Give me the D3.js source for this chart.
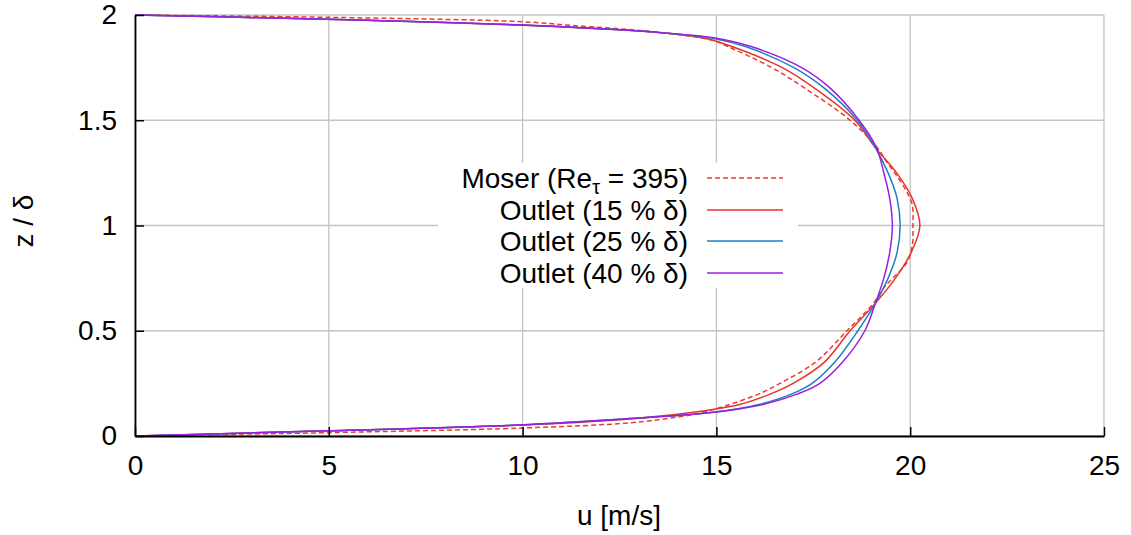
<!DOCTYPE html>
<html>
<head>
<meta charset="utf-8">
<script src="https://cdn.jsdelivr.net/npm/d3@7"></script>
<style>
  html, body { margin: 0; padding: 0; background: #fff; }
  svg text { font-family: "Liberation Sans", Arial, Helvetica, sans-serif; fill: #000; }
</style>
</head>
<body>
<svg id="chart" width="1131" height="535"></svg>
<script>
// tick values
const xTicks = [0, 5, 10, 15, 20, 25];
const yTicks = [0, 0.5, 1, 1.5, 2];

// Moser DNS (Re_tau = 395): wall distance z/delta and velocity u
const moserZ = [0, 0.008, 0.016, 0.038, 0.063, 0.09, 0.11, 0.13, 0.15, 0.2, 0.25, 0.35, 0.5, 0.63, 0.7, 0.75, 0.82, 0.9, 1.0, 1.1, 1.18, 1.25, 1.3, 1.37, 1.5, 1.65, 1.75, 1.85, 1.88, 1.92, 1.95, 1.968, 1.989, 2.0];
const moserU = [0, 2.5, 5, 10, 12.8, 14.0, 14.6, 15.0, 15.35, 16.1, 16.64, 17.55, 18.37, 19.05, 19.3, 19.55, 19.9, 20.05, 20.07, 20.05, 19.85, 19.6, 19.4, 19.15, 18.45, 17.3, 16.43, 15.3, 14.9, 13.4, 11.3, 10, 5, 0];

// outlet profiles share one z grid
const outletZ = [0, 0.01, 0.025, 0.05, 0.08, 0.11, 0.15, 0.2, 0.25, 0.35, 0.5, 0.63, 0.75, 0.87, 1.0, 1.13, 1.25, 1.37, 1.5, 1.65, 1.75, 1.85, 1.89, 1.92, 1.95, 1.975, 1.99, 2.0];
const outlet15U = [0, 2, 5, 9.7, 12.7, 14.3, 15.6, 16.4, 16.98, 17.78, 18.45, 19.1, 19.62, 20.02, 20.25, 20.05, 19.65, 19.1, 18.57, 17.55, 16.7, 15.4, 14.7, 13.3, 10.2, 6, 2.5, 0];
const outlet25U = [0, 2, 5, 9.6, 12.5, 14.8, 16.1, 16.95, 17.47, 18.05, 18.65, 19.1, 19.43, 19.66, 19.74, 19.66, 19.43, 19.1, 18.63, 17.8, 17.0, 15.75, 14.9, 13.3, 10.3, 6, 2.5, 0];
const outlet40U = [0, 2, 5, 9.6, 12.5, 14.8, 16.2, 17.1, 17.67, 18.25, 18.83, 19.1, 19.32, 19.47, 19.54, 19.47, 19.32, 19.13, 18.68, 17.95, 17.2, 15.9, 15.0, 13.3, 10.3, 6, 2.5, 0];

const series = [
  { name: "Moser", z: moserZ, u: moserU, color: "#ee3a2c", dash: "5,3" },
  { name: "Outlet (15 % δ)", z: outletZ, u: outlet15U, color: "#e8322a", dash: null },
  { name: "Outlet (25 % δ)", z: outletZ, u: outlet25U, color: "#1c80c0", dash: null },
  { name: "Outlet (40 % δ)", z: outletZ, u: outlet40U, color: "#9b1ee0", dash: null }
];

const svg = d3.select("#chart");
const x = d3.scaleLinear().domain([0, 25]).range([135, 1104]);
const y = d3.scaleLinear().domain([0, 2]).range([436, 15]);

// grid
const grid = svg.append("g").attr("stroke", "#c4c4c4").attr("stroke-width", 1.3);
grid.selectAll(".gx").data(xTicks).enter().append("line")
  .attr("x1", d => x(d)).attr("x2", d => x(d))
  .attr("y1", y(0)).attr("y2", y(2));
grid.selectAll(".gy").data(yTicks).enter().append("line")
  .attr("x1", x(0)).attr("x2", x(25))
  .attr("y1", d => y(d)).attr("y2", d => y(d));

// legend background hides the grid
svg.append("rect")
  .attr("x", 438).attr("y", 163).attr("width", 360).attr("height", 125)
  .attr("fill", "#fff");

// curves
const line = d3.line()
  .x(d => x(d[1]))
  .y(d => y(d[0]))
  .curve(d3.curveCatmullRom.alpha(0.5));

series.forEach(s => {
  svg.append("path")
    .datum(s.z.map((z, i) => [z, s.u[i]]))
    .attr("fill", "none")
    .attr("stroke", s.color)
    .attr("stroke-width", 1.5)
    .attr("stroke-dasharray", s.dash)
    .attr("d", line);
});

// axes
const xAxis = d3.axisBottom(x).tickValues(xTicks).tickSizeInner(-9).tickSizeOuter(0).tickPadding(19).tickFormat(d3.format("d"));
const yAxis = d3.axisLeft(y).tickValues(yTicks).tickSizeInner(-9).tickSizeOuter(0).tickPadding(18).tickFormat(d => d);

const gx = svg.append("g").attr("transform", `translate(0,${y(0)})`).call(xAxis);
const gy = svg.append("g").attr("transform", `translate(${x(0)},0)`).call(yAxis);
[gx, gy].forEach(g => {
  g.select(".domain").attr("stroke", "#000").attr("stroke-width", 1.8);
  g.selectAll(".tick line").attr("stroke", "#000").attr("stroke-width", 1.5);
  g.selectAll(".tick text").attr("font-size", 28).attr("font-family", "Liberation Sans, Arial, sans-serif").attr("fill", "#000");
});

// axis titles
svg.append("text")
  .attr("x", 619).attr("y", 525)
  .attr("text-anchor", "middle").attr("font-size", 28)
  .text("u [m/s]");
svg.append("text")
  .attr("transform", "translate(33,221) rotate(-90)")
  .attr("text-anchor", "middle").attr("font-size", 28)
  .text("z / δ");

// legend
const legendY = [178, 210, 241, 273];
const legend = svg.append("g");
series.forEach((s, i) => {
  const t = legend.append("text")
    .attr("x", 688).attr("y", legendY[i]).attr("dy", "0.35em")
    .attr("text-anchor", "end").attr("font-size", 28);
  if (s.name === "Moser") {
    t.append("tspan").text("Moser (Re");
    t.append("tspan").attr("font-size", 20).attr("dy", 6).text("τ");
    t.append("tspan").attr("dy", -6).text(" = 395)");
  } else {
    t.text(s.name);
  }
  legend.append("line")
    .attr("x1", 707).attr("x2", 783)
    .attr("y1", legendY[i]).attr("y2", legendY[i])
    .attr("stroke", s.color).attr("stroke-width", 1.5)
    .attr("stroke-dasharray", s.dash);
});
</script>
</body>
</html>
